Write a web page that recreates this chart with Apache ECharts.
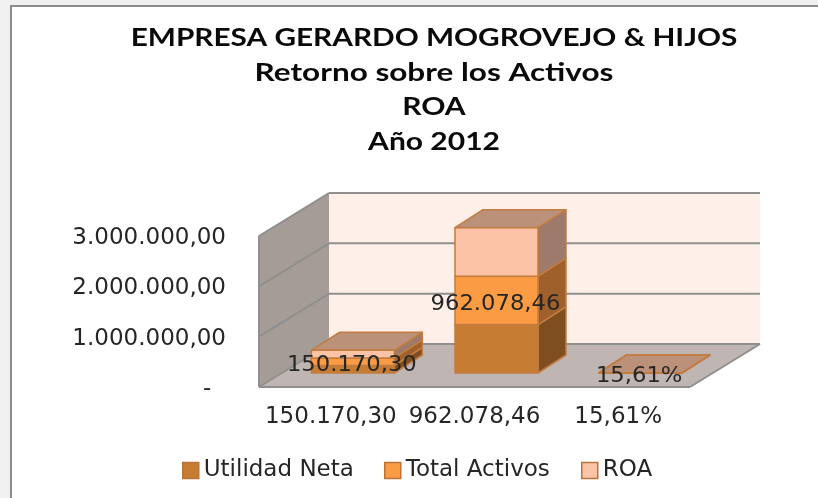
<!DOCTYPE html>
<html>
<head>
<meta charset="utf-8">
<title>ROA 2012</title>
<style>
    html, body { margin: 0; padding: 0; background: #f0f0f0; }
    #chart { width: 818px; height: 498px; }
</style>
<script src="https://cdn.jsdelivr.net/npm/echarts@6/dist/echarts.min.js"></script>
</head>
<body>
<div id="chart"></div>
<script>
    const titleLines = ['EMPRESA GERARDO MOGROVEJO & HIJOS', 'Retorno sobre los Activos', 'ROA', 'Año 2012'];
    const categories = ['150.170,30', '962.078,46', '15,61%'];
    const utilidadNeta = [150170.30, 962078.46, 0.1561];
    const totalActivos = [150170.30, 962078.46, 0.1561];
    const roa = [150170.30, 962078.46, 0.1561];
    const dataLabels = ['150.170,30', '962.078,46', '15,61%'];
    const yTicks = [0, 1000000, 2000000, 3000000];
    const yTickLabels = ['-  ', '1.000.000,00', '2.000.000,00', '3.000.000,00'];

    // fake 3d: wall depth and where the boxes sit inside it
    const DEPTH = [70, -43];
    const BOX_OFFSET = [22, -14];
    const BOX_DEPTH = [28, -18];
    const BOX_WIDTH = 83;
    const FONT = '"DejaVu Sans"';
    const TEXT_COLOR = '#262626';
    const TITLE_SCALE = [1.19, 1.26, 1.2, 1.2];

    function walls(params, api) {
        const band = api.size([1, 0])[0];
        const x0 = api.coord([0, 0])[0] - band / 2;
        const x1 = api.coord([2, 0])[0] + band / 2;
        const y0 = api.coord([0, 0])[1];
        const yTop = api.coord([0, yTicks[yTicks.length - 1]])[1];
        const [dx, dy] = DEPTH;
        const line = { stroke: '#8f8f8f', lineWidth: 2 };
        const children = [
            { type: 'polygon', shape: { points: [[x0 + dx, y0 + dy], [x1 + dx, y0 + dy], [x1 + dx, yTop + dy], [x0 + dx, yTop + dy]] }, style: { fill: '#fef0e8' } },
            { type: 'polygon', shape: { points: [[x0, y0], [x0 + dx, y0 + dy], [x0 + dx, yTop + dy], [x0, yTop]] }, style: { fill: '#a59c97' } },
            { type: 'polygon', shape: { points: [[x0, y0], [x1, y0], [x1 + dx, y0 + dy], [x0 + dx, y0 + dy]] }, style: { fill: '#bfb5b2' } },
            { type: 'line', shape: { x1: x0, y1: y0, x2: x0, y2: yTop }, style: line },
            { type: 'line', shape: { x1: x0, y1: y0, x2: x1, y2: y0 }, style: line },
            { type: 'line', shape: { x1: x1, y1: y0, x2: x1 + dx, y2: y0 + dy }, style: line }
        ];
        yTicks.forEach(function (t) {
            const y = api.coord([0, t])[1];
            children.push({ type: 'line', shape: { x1: x0, y1: y, x2: x0 + dx, y2: y + dy }, style: line });
            children.push({ type: 'line', shape: { x1: x0 + dx, y1: y + dy, x2: x1 + dx, y2: y + dy }, style: line });
        });
        return { type: 'group', children: children };
    }

    function box(colors) {
        return function (params, api) {
            const low = api.coord([api.value(0), api.value(1)]);
            const high = api.coord([api.value(0), api.value(2)]);
            const l = low[0] + BOX_OFFSET[0] - BOX_WIDTH / 2;
            const r = l + BOX_WIDTH;
            const b = low[1] + BOX_OFFSET[1];
            const t = high[1] + BOX_OFFSET[1];
            const [dx, dy] = BOX_DEPTH;
            const edge = { stroke: '#c27c3f', lineWidth: 1.5, lineJoin: 'round' };
            return {
                type: 'group',
                children: [
                    { type: 'polygon', shape: { points: [[r, b], [r + dx, b + dy], [r + dx, t + dy], [r, t]] }, style: Object.assign({ fill: colors.side }, edge) },
                    { type: 'polygon', shape: { points: [[l, t], [r, t], [r + dx, t + dy], [l + dx, t + dy]] }, style: Object.assign({ fill: colors.top }, edge) },
                    { type: 'polygon', shape: { points: [[l, b], [r, b], [r, t], [l, t]] }, style: Object.assign({ fill: colors.front }, edge) }
                ]
            };
        };
    }

    function boxSeries(name, values, below, colors) {
        return {
            name: name,
            type: 'custom',
            z: 3,
            silent: true,
            itemStyle: { color: colors.front, borderColor: '#b9743a' },
            encode: { x: 0, y: [1, 2] },
            data: values.map(function (v, i) { return [i, below[i], below[i] + v]; }),
            renderItem: box(colors)
        };
    }

    // one legend per entry, the gaps in the picture are not even
    function legendItem(name, color, left) {
        return {
            left: left,
            top: 454,
            itemWidth: 16,
            itemHeight: 16,
            itemGap: 0,
            icon: 'rect',
            data: [{ name: name, itemStyle: { color: color, borderColor: '#b9743a', borderWidth: 1.5 } }],
            textStyle: { fontFamily: FONT, fontSize: 23, color: TEXT_COLOR }
        };
    }

    const base1 = utilidadNeta.map(function () { return 0; });
    const base2 = utilidadNeta;
    const base3 = utilidadNeta.map(function (v, i) { return v + totalActivos[i]; });

    const option = {
        animation: false,
        backgroundColor: '#f0f0f0',
        graphic: [
            {
                type: 'rect', z: -10, silent: true,
                shape: { x: 11, y: 6, width: 900, height: 600 },
                style: { fill: '#ffffff', stroke: '#8c8c8c', lineWidth: 2 }
            }
        ].concat(titleLines.map(function (line, i) {
            return {
                type: 'text', silent: true, z: 10,
                x: 434,
                y: 38 + i * 34.6,
                scaleX: TITLE_SCALE[i],
                style: {
                    text: line,
                    font: 'bold 25px Lato',
                    fill: '#0a0a0a',
                    align: 'center',
                    verticalAlign: 'middle'
                }
            };
        })),
        legend: [
            legendItem('Utilidad Neta', '#c77c34', 177),
            legendItem('Total Activos', '#fb9b44', 379),
            legendItem('ROA', '#fcc3a7', 576)
        ],
        grid: { left: 259, top: 236, width: 431, height: 151 },
        xAxis: {
            type: 'category',
            data: categories,
            axisLine: { show: false },
            axisTick: { show: false },
            axisLabel: { interval: 0, margin: 19, fontFamily: FONT, fontSize: 23, color: TEXT_COLOR }
        },
        yAxis: {
            type: 'value',
            min: 0,
            max: 3000000,
            interval: 1000000,
            axisLine: { show: false },
            axisTick: { show: false },
            splitLine: { show: false },
            axisLabel: {
                margin: 33,
                verticalAlign: 'top',
                lineHeight: 4,
                fontFamily: FONT,
                fontSize: 23,
                color: TEXT_COLOR,
                formatter: function (value) { return yTickLabels[yTicks.indexOf(value)]; }
            }
        },
        series: [
            {
                name: 'walls',
                type: 'custom',
                z: 1,
                silent: true,
                encode: { x: 0, y: 1 },
                data: [[0, 0]],
                renderItem: walls
            },
            boxSeries('Utilidad Neta', utilidadNeta, base1, { front: '#c77c34', side: '#7f4e20', top: '#a56a38' }),
            boxSeries('Total Activos', totalActivos, base2, { front: '#fb9b44', side: '#a0602b', top: '#c9803f' }),
            boxSeries('ROA', roa, base3, { front: '#fcc3a7', side: '#9d7a6b', top: '#bc917a' }),
            {
                name: 'labels',
                type: 'custom',
                z: 5,
                silent: true,
                encode: { x: 0, y: 1 },
                data: totalActivos.map(function (v, i) { return [i, base2[i] + v / 2]; }),
                renderItem: function (params, api) {
                    const p = api.coord([api.value(0), api.value(1)]);
                    return {
                        type: 'text',
                        x: p[0] + BOX_OFFSET[0] - 1,
                        y: p[1] + BOX_OFFSET[1] + 4,
                        scaleX: 1.08,
                        style: {
                            text: dataLabels[params.dataIndex],
                            font: '21px ' + FONT,
                            fill: TEXT_COLOR,
                            align: 'center',
                            verticalAlign: 'middle'
                        }
                    };
                }
            }
        ]
    };

    const chart = echarts.init(document.getElementById('chart'));
    chart.setOption(option);
</script>
</body>
</html>
